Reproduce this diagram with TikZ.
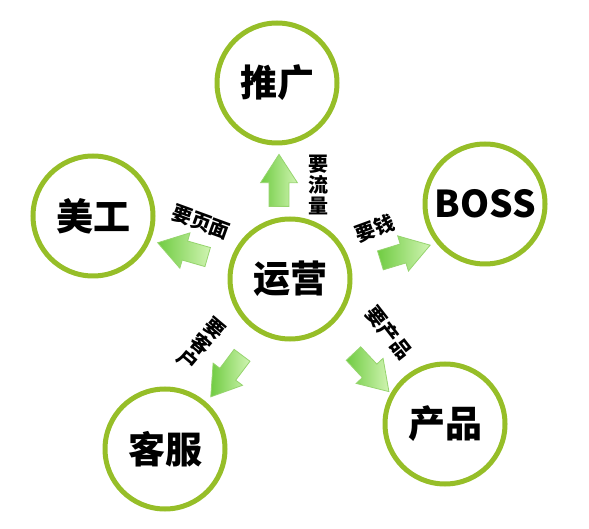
\documentclass[tikz,border=0pt]{standalone}
\usepackage{fontspec}
\newfontfamily\cjk{Noto Sans CJK SC}
\usetikzlibrary{shapes.arrows}
\definecolor{ring}{RGB}{150,190,40}
\definecolor{arrowdark}{RGB}{112,204,66}
\definecolor{arrowlight}{RGB}{208,244,178}
\definecolor{arrowedge}{RGB}{150,212,110}
\begin{document}
\begin{tikzpicture}[x=1pt,y=1pt,
    role/.style={circle,draw=ring,line width=5pt,minimum size=120pt,inner sep=0pt,
      font=\cjk\bfseries\fontsize{37}{37}\selectfont},
    push/.style={single arrow,draw=arrowedge,line width=0.8pt,
      left color=arrowdark,right color=arrowlight,
      minimum height=52pt,minimum width=0pt,inner xsep=0pt,inner ysep=9.5pt,
      single arrow head extend=8.5pt,single arrow tip angle=66},
    ask/.style={inner sep=0pt,align=center,
      font=\cjk\bfseries\fontsize{20}{21}\selectfont}]
  \useasboundingbox (0,0) rectangle (589,528);
  \draw
    (290,249) node[role] (yunying){运营}
    (277,445) node[role] (tuiguang){推广}
    (485,324) node[role] (boss){BOSS}
    (93,312) node[role] (meigong){美工}
    (165,79) node[role] (kefu){客服}
    (445,104) node[role] (chanpin){产品};
  \begin{scope}[every node/.append style={push}]
    \node[rotate=90] (toTuiguang) at (279,340) {};
    \node[rotate=164] (toMeigong) at (190,276) {};
    \node[rotate=17] (toBoss) at (398,273) {};
    \node[rotate=-127] (toKefu) at (231,158) {};
    \node[rotate=-47] (toChanpin) at (366,161) {};
  \end{scope}
  \begin{scope}[every node/.append style={ask}]
    \node (liuliang) at (318,343) {要\\流\\量};
    \node[rotate=-20] (yemian) at (201,306) {要页面};
    \node[rotate=20] (qian) at (375,300) {要钱};
    \node[rotate=-40] (kehu) at (201,184) {要\\客\\户};
    \node[rotate=-52] (chanpinAsk) at (389,195) {要产品};
  \end{scope}
\end{tikzpicture}
\end{document}
